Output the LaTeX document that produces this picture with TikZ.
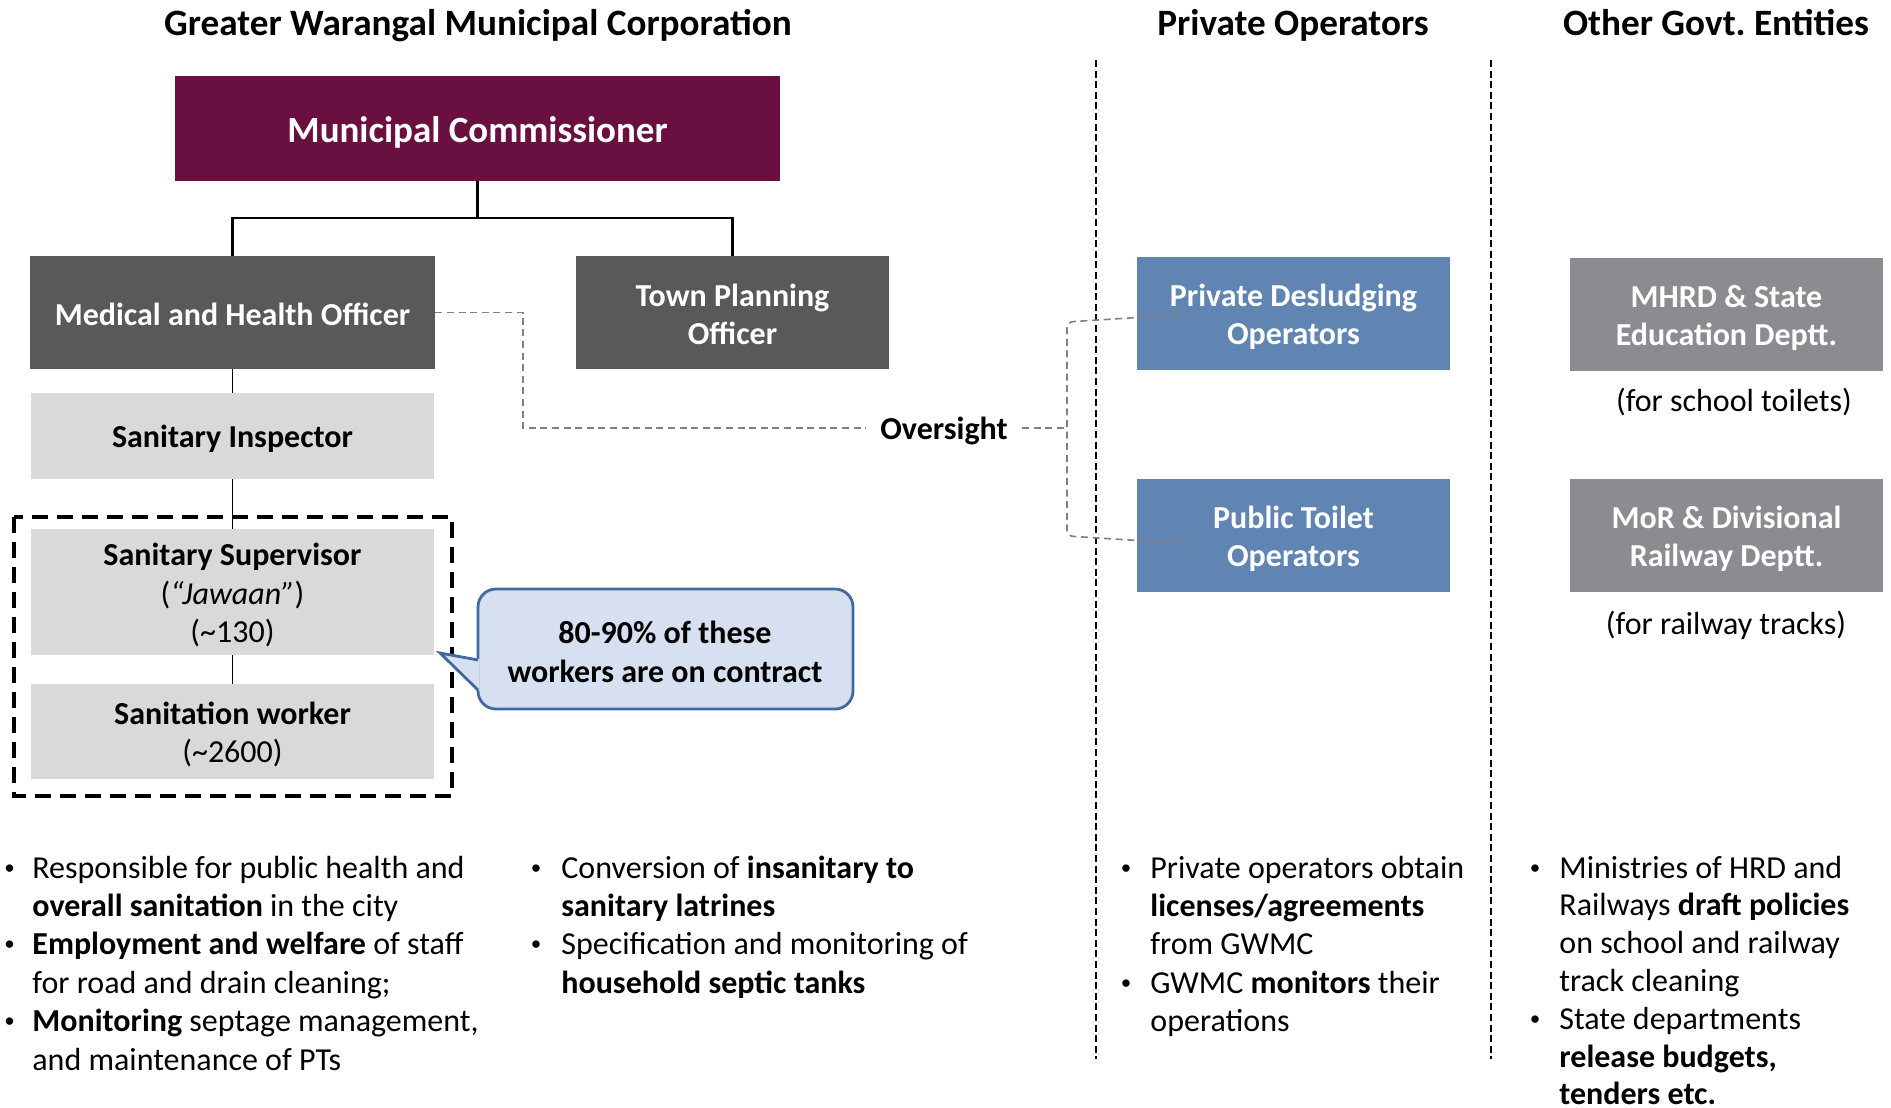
\documentclass[tikz,border=0pt]{standalone}
\usepackage{fontspec}
\setmainfont{Carlito}
\usetikzlibrary{calc}
\frenchspacing
\definecolor{mcred}{HTML}{6A1040}
\definecolor{dkgray}{HTML}{595959}
\definecolor{ltgray}{HTML}{D9D9D9}
\definecolor{opblue}{HTML}{6085B2}
\definecolor{govgray}{HTML}{8B8C8F}
\definecolor{notefill}{HTML}{D6E0F0}
\definecolor{noteedge}{HTML}{41699F}
\definecolor{ovgray}{HTML}{808080}
\newcommand\bst{\rule[-0.1em]{0pt}{1em}}
\newcommand\bul{\raisebox{2pt}{\fontsize{10.5}{12}\selectfont\textbullet}}
\begin{document}
\begin{tikzpicture}[x=0.5pt,y=-0.5pt,
  every node/.style={inner sep=0pt},
  head/.style={font=\fontsize{18.6}{22}\selectfont\bfseries, anchor=base},
  box/.style={rectangle, align=center, font=\fontsize{16}{19.3}\selectfont\bfseries},
  darkbox/.style={box, fill=dkgray, text=white},
  lightbox/.style={box, fill=ltgray, text=black},
  bluebox/.style={box, fill=opblue, text=white, minimum width=156.5pt, minimum height=56.5pt},
  graybox/.style={box, fill=govgray, text=white, minimum width=156.5pt, minimum height=56.5pt},
  conn/.style={draw=black, line width=0.8pt},
  ovline/.style={draw=ovgray, line width=0.8pt, dash pattern=on 3.5pt off 2.3pt},
  divline/.style={draw=black, line width=0.6pt, dash pattern=on 3.5pt off 1.8pt},
  grpbox/.style={draw=black, line width=1.7pt, dash pattern=on 8pt off 4.5pt},
  bdot/.style={anchor=base, font=\fontsize{16}{19.3}\selectfont},
  btxt/.style={anchor=base west, font=\fontsize{16}{19.3}\selectfont},
  plain/.style={font=\fontsize{16}{19.3}\selectfont}
]
\useasboundingbox (0,0) rectangle (1891,1108);

% column headings
\node[head] (h1) at (478,35) {Greater Warangal Municipal Corporation};
\node[head] (h2) at (1293,35) {Private Operators};
\node[head] (h3) at (1716,35) {Other Govt. Entities};

% column dividers
\draw[divline] (1096,60) -- (1096,1059);
\draw[divline] (1491,60) -- (1491,1059);

% GWMC hierarchy
\node[box, fill=mcred, text=white, minimum width=302.5pt, minimum height=52.5pt,
      font=\fontsize{18.5}{22}\selectfont\bfseries] (mc) at (477.5,128.5) {\bst Municipal Commissioner};
\node[darkbox, minimum width=202.5pt, minimum height=56.5pt] (mho) at (232.5,312.5) {\bst Medical and Health Officer};
\node[darkbox, minimum width=156.5pt, minimum height=56.5pt] (tpo) at (732.5,312.5) {\bst Town Planning\\\bst Officer};
\node[lightbox, minimum width=201.5pt, minimum height=43pt] (si) at (232.5,436) {\bst Sanitary Inspector};
\node[lightbox, minimum width=201.5pt, minimum height=63pt, font=\fontsize{16}{19.3}\selectfont] (ss) at (232.5,592)
  {\bst\textbf{Sanitary Supervisor}\\\bst(\textit{“Jawaan”})\\\bst(\textasciitilde130)};
\node[lightbox, minimum width=201.5pt, minimum height=47.5pt, font=\fontsize{16}{19.3}\selectfont] (sw) at (232.5,731.5)
  {\bst\textbf{Sanitation worker}\\\bst(\textasciitilde2600)};

\coordinate (jn) at (477.5,218);
\draw[conn, line width=1.1pt] (mc.south) -- (jn);
\draw[conn, line width=1.1pt] (jn) -| (mho.north);
\draw[conn, line width=1.1pt] (jn) -| (tpo.north);
\draw[conn] (mho.south) -- (si.north);
\draw[conn] (si.south) -- (ss.north);
\draw[conn, line width=0.6pt] (ss.south) -- (sw.north);

% dashed group around contract workers
\draw[grpbox] (14,517) rectangle (452,796);

% callout
\filldraw[fill=notefill, draw=noteedge, line width=1.4pt, rounded corners=9pt] (478,589) rectangle (853,709);
\fill[notefill] (479.6,659) -- (440,653) -- (479.6,691) -- cycle;
\draw[noteedge, line width=1.4pt, line join=miter] (478,660) -- (440,653) -- (478,690);
\node[box, text=black] (note) at (665,650) {\bst 80-90\% of these\\\bst workers are on contract};

% private operators
\node[bluebox] (pd) at (1293.5,313.5) {\bst Private Desludging\\\bst Operators};
\node[bluebox] (pt) at (1293.5,535.5) {\bst Public Toilet\\\bst Operators};

% other govt entities
\node[graybox] (mh) at (1726.5,314.5) {\bst MHRD \& State\\\bst Education Deptt.};
\node[graybox] (mr) at (1726.5,535.5) {\bst MoR \& Divisional\\\bst Railway Deptt.};
\node[plain] (mhn) at (1734,399) {\bst(for school toilets)};
\node[plain] (mrn) at (1726,623) {\bst(for railway tracks)};

% oversight connector
\node[box, text=black, inner xsep=7pt] (ov) at (944,428) {\bst Oversight};
\coordinate (ovk) at (523,428);
\draw[ovline] (mho.east) -| (ovk) -- (ov.west);
\coordinate (brt) at (1067,322);
\coordinate (brm) at (1067,428);
\coordinate (brb) at (1067,536);
\coordinate (pdend) at ($(pd.west)+(55,0.5)$);
\coordinate (ptend) at ($(pt.west)+(55,8.5)$);
\draw[ovline] (ov.east) -- (brm);
\draw[ovline, rounded corners=3pt] (pdend) -- (brt) -- (brb) -- (ptend);

% bullet lists
% column 1
\node[bdot] (c1d1) at (9.5,878) {\bul};
\node[btxt] (c1l1) at (32,878) {Responsible for public health and};
\node[btxt] (c1l2) at (32,916.4) {\textbf{overall sanitation} in the city};
\node[bdot] (c1d2) at (9.5,954.8) {\bul};
\node[btxt] (c1l3) at (32,954.8) {\textbf{Employment and welfare} of staff};
\node[btxt] (c1l4) at (32,993.2) {for road and drain cleaning;};
\node[bdot] (c1d3) at (9.5,1031.6) {\bul};
\node[btxt] (c1l5) at (32,1031.6) {\textbf{Monitoring} septage management,};
\node[btxt] (c1l6) at (32,1070) {and maintenance of PTs};
% column 2
\node[bdot] (c2d1) at (536,878) {\bul};
\node[btxt] (c2l1) at (561,878) {Conversion of \textbf{insanitary to}};
\node[btxt] (c2l2) at (561,916.4) {\textbf{sanitary latrines}};
\node[bdot] (c2d2) at (536,954.8) {\bul};
\node[btxt] (c2l3) at (561,954.8) {Specification and monitoring of};
\node[btxt] (c2l4) at (561,993.2) {\textbf{household septic tanks}};
% column 3
\node[bdot] (c3d1) at (1126,878) {\bul};
\node[btxt] (c3l1) at (1150,878) {Private operators obtain};
\node[btxt] (c3l2) at (1150,916.4) {\textbf{licenses/agreements}};
\node[btxt] (c3l3) at (1150,954.8) {from GWMC};
\node[bdot] (c3d2) at (1126,993.2) {\bul};
\node[btxt] (c3l4) at (1150,993.2) {GWMC \textbf{monitors} their};
\node[btxt] (c3l5) at (1150,1031.6) {operations};
% column 4
\node[bdot] (c4d1) at (1535,878) {\bul};
\node[btxt] (c4l1) at (1559,878) {Ministries of HRD and};
\node[btxt] (c4l2) at (1559,915.8) {Railways \textbf{draft policies}};
\node[btxt] (c4l3) at (1559,953.6) {on school and railway};
\node[btxt] (c4l4) at (1559,991.4) {track cleaning};
\node[bdot] (c4d2) at (1535,1029.2) {\bul};
\node[btxt] (c4l5) at (1559,1029.2) {State departments};
\node[btxt] (c4l6) at (1559,1067) {\textbf{release budgets,}};
\node[btxt] (c4l7) at (1559,1104.8) {\textbf{tenders etc.}};
\end{tikzpicture}
\end{document}
